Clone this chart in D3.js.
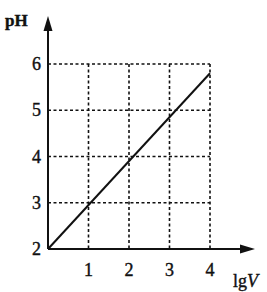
<!DOCTYPE html>
<html>
<head>
<meta charset="utf-8">
<script src="https://cdn.jsdelivr.net/npm/d3@7"></script>
<style>
body { margin: 0; background: #fff; }
text { font-family: "Liberation Serif", "DejaVu Serif", serif; fill: #111; stroke: #111; stroke-width: 0.4; }
</style>
</head>
<body>
<script>
// data
const xTicks = [1, 2, 3, 4];
const yTicks = [2, 3, 4, 5, 6];
const lineX = [0, 4];
const lineY = [2, 5.8];

const svg = d3.select("body").append("svg").attr("width", 267).attr("height", 292);

const x = d3.scaleLinear().domain([0, 4]).range([48, 210]);
const y = d3.scaleLinear().domain([2, 6]).range([249, 64]);

/* ** GRID ** */
svg.selectAll(".vgrid").data(xTicks).enter().append("line")
  .attr("x1", d => x(d)).attr("x2", d => x(d))
  .attr("y1", y(6)).attr("y2", y(2))
  .attr("stroke", "#111").attr("stroke-width", 1.6).attr("stroke-dasharray", "3,2.5");
svg.selectAll(".hgrid").data(yTicks.filter(d => d > 2)).enter().append("line")
  .attr("x1", x(0)).attr("x2", x(4))
  .attr("y1", d => y(d)).attr("y2", d => y(d))
  .attr("stroke", "#111").attr("stroke-width", 1.6).attr("stroke-dasharray", "3,2.5");

/* ** AXES ** */
svg.append("line").attr("x1", x(0)).attr("x2", x(0)).attr("y1", y(2)).attr("y2", 24)
  .attr("stroke", "#111").attr("stroke-width", 2);
svg.append("path").attr("d", `M${x(0)},16 L${x(0) - 4.5},31 L${x(0) + 4.5},31 Z`).attr("fill", "#111");
svg.append("line").attr("x1", x(0)).attr("x2", 246).attr("y1", y(2)).attr("y2", y(2))
  .attr("stroke", "#111").attr("stroke-width", 2);
svg.append("path").attr("d", `M255,${y(2)} L240,${y(2) - 4.5} L240,${y(2) + 4.5} Z`).attr("fill", "#111");

/* ** LINE ** */
const pts = lineX.map((d, i) => [d, lineY[i]]);
svg.append("path").datum(pts)
  .attr("d", d3.line().x(d => x(d[0])).y(d => y(d[1])))
  .attr("fill", "none").attr("stroke", "#111").attr("stroke-width", 2);

/* ** LABELS ** */
svg.selectAll(".ylab").data(yTicks).enter().append("text")
  .attr("x", 41).attr("y", d => y(d) + 6).attr("text-anchor", "end")
  .attr("font-size", 18).text(d => d);
svg.selectAll(".xlab").data(xTicks).enter().append("text")
  .attr("x", d => x(d)).attr("y", 276).attr("text-anchor", "middle")
  .attr("font-size", 18).text(d => d);
svg.append("text").attr("x", 5).attr("y", 26).attr("font-size", 17).attr("font-weight", "bold").text("pH");
const lg = svg.append("text").attr("x", 233).attr("y", 287).attr("font-size", 18);
lg.append("tspan").text("lg");
lg.append("tspan").attr("font-style", "italic").text("V");
</script>
</body>
</html>
